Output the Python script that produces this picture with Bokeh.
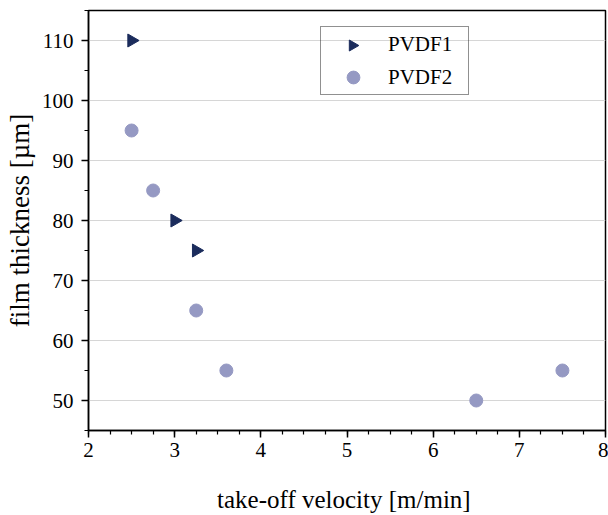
import math
from bokeh.plotting import figure
from bokeh.models import Range1d, Legend, LegendItem, FixedTicker
from bokeh.embed import file_html
from bokeh.resources import INLINE

pvdf1_x = [2.5, 3.0, 3.25]
pvdf1_y = [110, 80, 75]
pvdf2_x = [2.5, 2.75, 3.25, 3.6, 6.5, 7.5]
pvdf2_y = [95, 85, 65, 55, 50, 55]
x_ticks = [2, 3, 4, 5, 6, 7, 8]
y_ticks = [50, 60, 70, 80, 90, 100, 110]

FONT = "Liberation Serif"
NAVY = "#1b2c5c"
LAV = "#9599c3"

W, H = 608, 515
BL, BR, BT, BB = 88, 3, 10, 85
FW, FH = W - BL - BR, H - BT - BB

p = figure(width=W, height=H, output_backend="svg", toolbar_location=None,
           x_range=Range1d(2, 8), y_range=Range1d(45, 115),
           min_border_left=BL, min_border_right=BR, min_border_top=BT, min_border_bottom=BB)
# pixel ranges used only to place the legend's marker overlay
p.extra_x_ranges = {"px": Range1d(0, FW)}
p.extra_y_ranges = {"py": Range1d(0, FH)}

p.outline_line_color = "black"
p.outline_line_width = 1.5
p.background_fill_color = "white"
p.border_fill_color = "white"

p.xgrid.grid_line_color = None
p.ygrid.grid_line_color = "#d6d6d6"
p.ygrid.grid_line_width = 1

p.xaxis.ticker = FixedTicker(ticks=x_ticks, minor_ticks=[2 + 0.25 * i for i in range(25)])
p.yaxis.ticker = FixedTicker(ticks=y_ticks, minor_ticks=list(range(45, 116, 5)))

for ax in (p.xaxis, p.yaxis):
    ax.axis_line_color = "black"
    ax.axis_line_width = 1.5
    ax.major_tick_line_color = "black"
    ax.major_tick_line_width = 1.5
    ax.minor_tick_line_color = "black"
    ax.minor_tick_line_width = 1.2
    ax.major_tick_out = 7
    ax.major_tick_in = 0
    ax.minor_tick_out = 4
    ax.minor_tick_in = 0
    ax.major_label_text_font = FONT
    ax.major_label_text_font_size = "21px"
    ax.major_label_text_color = "black"
    ax.axis_label_text_font = FONT
    ax.axis_label_text_font_style = "normal"
    ax.axis_label_text_color = "black"

p.xaxis.axis_label = "take-off velocity  [m/min]"
p.xaxis.axis_label_text_font_size = "25px"
p.xaxis.axis_label_standoff = 26
p.xaxis.major_label_standoff = 5
p.yaxis.axis_label = "film thickness [µm]"
p.yaxis.axis_label_text_font_size = "27px"
p.yaxis.axis_label_standoff = 4
p.yaxis.major_label_standoff = 8

r1 = p.scatter(pvdf1_x, pvdf1_y, marker="triangle", angle=-math.pi / 2, size=13,
               fill_color=NAVY, line_color=NAVY)
r2 = p.scatter(pvdf2_x, pvdf2_y, marker="circle", size=13,
               fill_color=LAV, line_color=LAV)

# invisible stand-in so the legend row for PVDF1 keeps its slot
dummy = p.scatter([], [], marker="circle", size=1, fill_alpha=0, line_alpha=0)

LX, LY = 232, 335
PAD, GW, GH, SP, STAND, LW = 1, 62, 32, 1, 4, 79
legend = Legend(items=[LegendItem(label="PVDF1", renderers=[dummy]),
                       LegendItem(label="PVDF2", renderers=[r2])],
                location=(LX, LY))
legend.label_text_font = FONT
legend.label_text_font_size = "21px"
legend.label_text_color = "black"
legend.border_line_color = "#222222"
legend.border_line_width = 1
legend.background_fill_alpha = 0
legend.padding = PAD
legend.margin = 0
legend.spacing = SP
legend.glyph_width = GW
legend.glyph_height = GH
legend.label_standoff = STAND
legend.label_width = LW
p.add_layout(legend)

# right-pointing triangle drawn in the legend's first glyph slot
leg_h = 2 * PAD + 2 * GH + SP
p.scatter([LX + PAD + GW / 2], [LY + leg_h - PAD - GH / 2], marker="triangle",
          angle=-math.pi / 2, size=11, fill_color=NAVY, line_color=NAVY,
          x_range_name="px", y_range_name="py")

open("out.html", "w").write(file_html(p, INLINE))
